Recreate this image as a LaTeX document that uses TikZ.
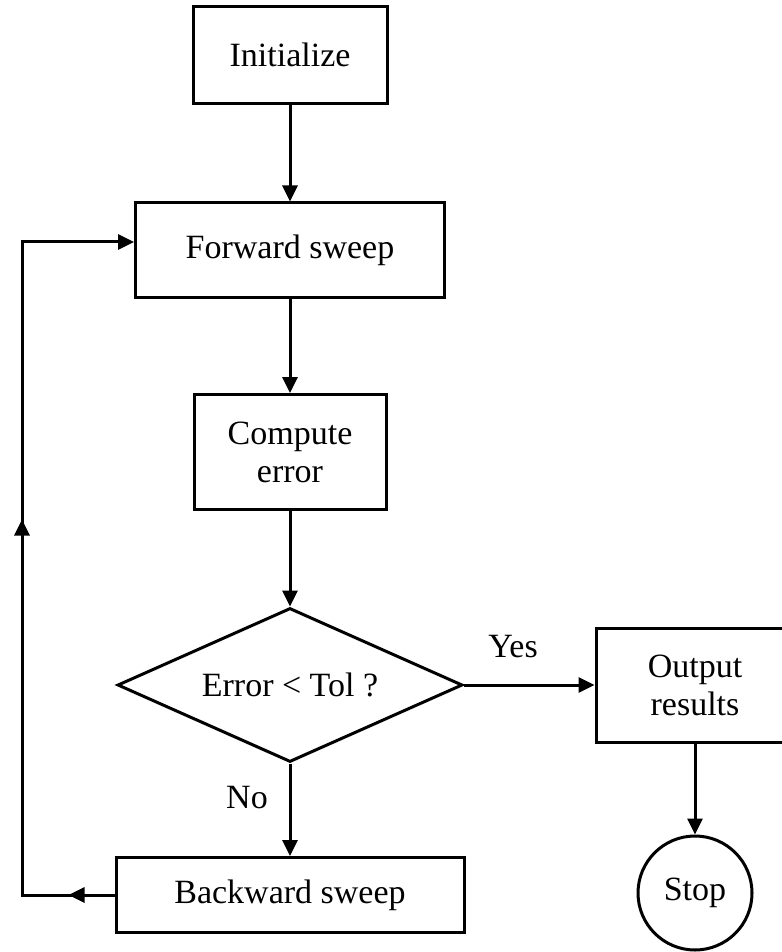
\documentclass[tikz,border=0pt]{standalone}
\usepackage{fontspec}
\setmainfont{Liberation Serif}
\usetikzlibrary{arrows.meta,positioning,shapes.geometric}
\usetikzlibrary{calc,decorations.markings}

\tikzset{
	box/.style = {draw, line width=1.5pt, align=center, inner sep=2pt, font=\fontsize{17}{19}\selectfont},
	lbl/.style = {font=\fontsize{17}{19}\selectfont},
	arr/.style = {line width=1.5pt, -{Triangle[length=8pt,width=7.5pt]}},
	loopmarks/.style = {postaction={decorate}, decoration={markings,
		mark=at position 23pt with {\arrow{Triangle[length=8pt,width=7.5pt]}},
		mark=at position 234pt with {\arrow{Triangle[length=8pt,width=7.5pt]}}}},
}

\begin{document}
\begin{tikzpicture}[x=0.5pt, y=-0.5pt]
		\useasboundingbox (0,0) rectangle (781,952);
		\node[box, minimum width=97pt, minimum height=48.5pt] (init) at (290,55) {Initialize};
		\node[box, minimum width=154.5pt, minimum height=47pt] (fwd) at (290,250) {Forward sweep};
		\node[box, minimum width=96pt, minimum height=57.5pt] (comp) at (290,452) {Compute\\error};
		\node[box, diamond, aspect=2.24, inner sep=0pt, minimum width=172.5pt, minimum height=77pt] (dec) at (290,685) {Error < Tol ?};
		\node[box, minimum width=99pt, minimum height=57pt] (out) at (695,685) {Output\\results};
		\node[box, circle, inner sep=0pt, minimum size=57pt] (stop) at (695,893) {Stop};
		\node[box, minimum width=174pt, minimum height=37.5pt] (back) at (290,895) {Backward sweep};
		\node[lbl] (yes) at (513,647) {Yes};
		\node[lbl] (no) at (247,798) {No};
		\coordinate (lb) at (22,895);
		\coordinate (lt) at (22,242);
%		main column
		\draw[arr] (init) -- (fwd);
		\draw[arr] (fwd) -- (comp);
		\draw[arr] (comp) -- (dec);
		\draw[arr] (dec.east) -- (out.west);
		\draw[arr] (dec.south) -- (back.north);
		\draw[arr] (out) -- (stop);
%		loop back
		\draw[arr, loopmarks] (back.west) -- (lb) -- (lt) -- (fwd.west |- lt);
	\end{tikzpicture}
\end{document}
